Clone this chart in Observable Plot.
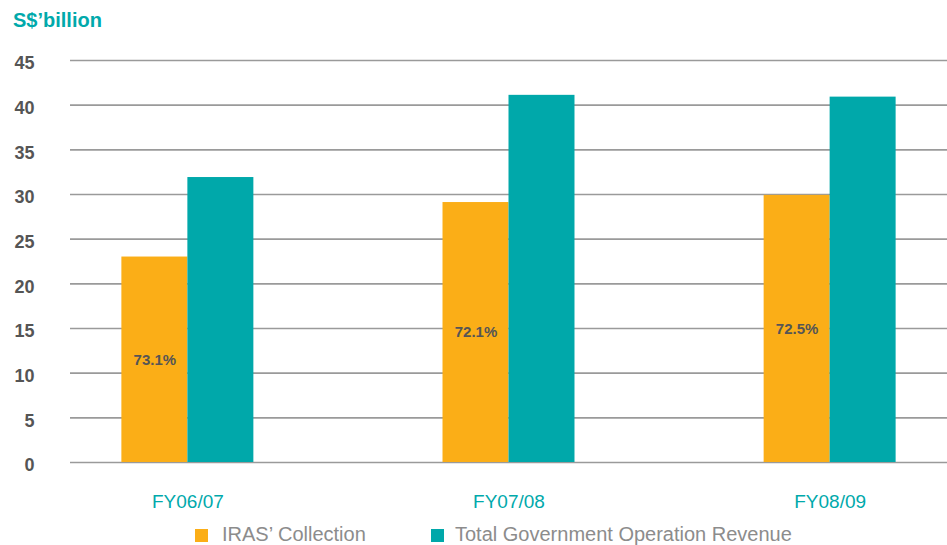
<!DOCTYPE html>
<html>
<head>
<meta charset="utf-8">
<script src="https://cdn.jsdelivr.net/npm/d3@7"></script>
<script src="https://cdn.jsdelivr.net/npm/@observablehq/plot@0.6"></script>
<style>
  html, body { margin: 0; padding: 0; background: #fff; }
  body { position: relative; width: 947px; height: 545px; overflow: hidden; font-family: "Liberation Sans", Arial, sans-serif; }
  #title { position: absolute; left: 13px; top: 1px; height: 38px; line-height: 38px; font-size: 20px; font-weight: bold; color: #00a9ab; }
  #chart { position: absolute; left: 0; top: 38px; }
  .sw { position: absolute; top: 529px; width: 13px; height: 13px; }
  .lt { position: absolute; top: 521px; height: 26px; line-height: 26px; font-size: 20px; color: #8c8c8c; white-space: nowrap; }
</style>
</head>
<body>
<div id="title">S$’billion</div>
<div id="chart"></div>
<div class="sw" id="sw1" style="left:195px;"></div>
<div class="lt" id="lt1" style="left:222px;"></div>
<div class="sw" id="sw2" style="left:431px;"></div>
<div class="lt" id="lt2" style="left:455px;"></div>
<script>
const years = ["FY06/07", "FY07/08", "FY08/09"];
const irasCollection = [23.0, 29.1, 29.9];
const totalRevenue = [31.9, 41.1, 40.9];
const shareLabels = ["73.1%", "72.1%", "72.5%"];
const yTicks = [0, 5, 10, 15, 20, 25, 30, 35, 40, 45];
const seriesNames = ["IRAS’ Collection", "Total Government Operation Revenue"];
const colors = ["#fbae17", "#00a8aa"];

const rows = years.map((y, i) => ({year: y, iras: irasCollection[i], total: totalRevenue[i], pct: shareLabels[i]}));

const W = 947, H = 482, mL = 70, mR = 0, mT = 22, mB = 58;
const padIn = 0.589, padOut = 0.16;
const bw = d3.scaleBand().domain(years).range([mL, W - mR]).paddingInner(padIn).paddingOuter(padOut).bandwidth();
const half = bw / 2;

const chart = Plot.plot({
  width: W, height: H,
  marginLeft: mL, marginRight: mR, marginTop: mT, marginBottom: mB,
  style: {fontFamily: "'Liberation Sans', Arial, sans-serif", background: "#fff"},
  x: {domain: years, paddingInner: padIn, paddingOuter: padOut, round: false},
  y: {domain: [0, 45]},
  marks: [
    Plot.gridY(yTicks, {stroke: "#9a9a9a", strokeOpacity: 1, strokeWidth: 1.6}),
    Plot.axisY(yTicks, {tickSize: 0, tickPadding: 36, fontSize: 18, fontWeight: "bold", fill: "#555", label: null, dy: 3}),
    Plot.axisX({tickSize: 0, tickPadding: 32, fontSize: 19, fill: "#00a9ab", label: null}),
    Plot.barY(rows, {x: "year", y: "iras", fill: colors[0], insetRight: half}),
    Plot.barY(rows, {x: "year", y: "total", fill: colors[1], insetLeft: half}),
    Plot.text(rows, {x: "year", y: d => d.iras / 2, text: "pct", dx: -half / 2, fontSize: 15, fontWeight: "bold", fill: "#555"})
  ]
});
document.getElementById("chart").appendChild(chart);

document.getElementById("sw1").style.background = colors[0];
document.getElementById("sw2").style.background = colors[1];
document.getElementById("lt1").textContent = seriesNames[0];
document.getElementById("lt2").textContent = seriesNames[1];
</script>
</body>
</html>
